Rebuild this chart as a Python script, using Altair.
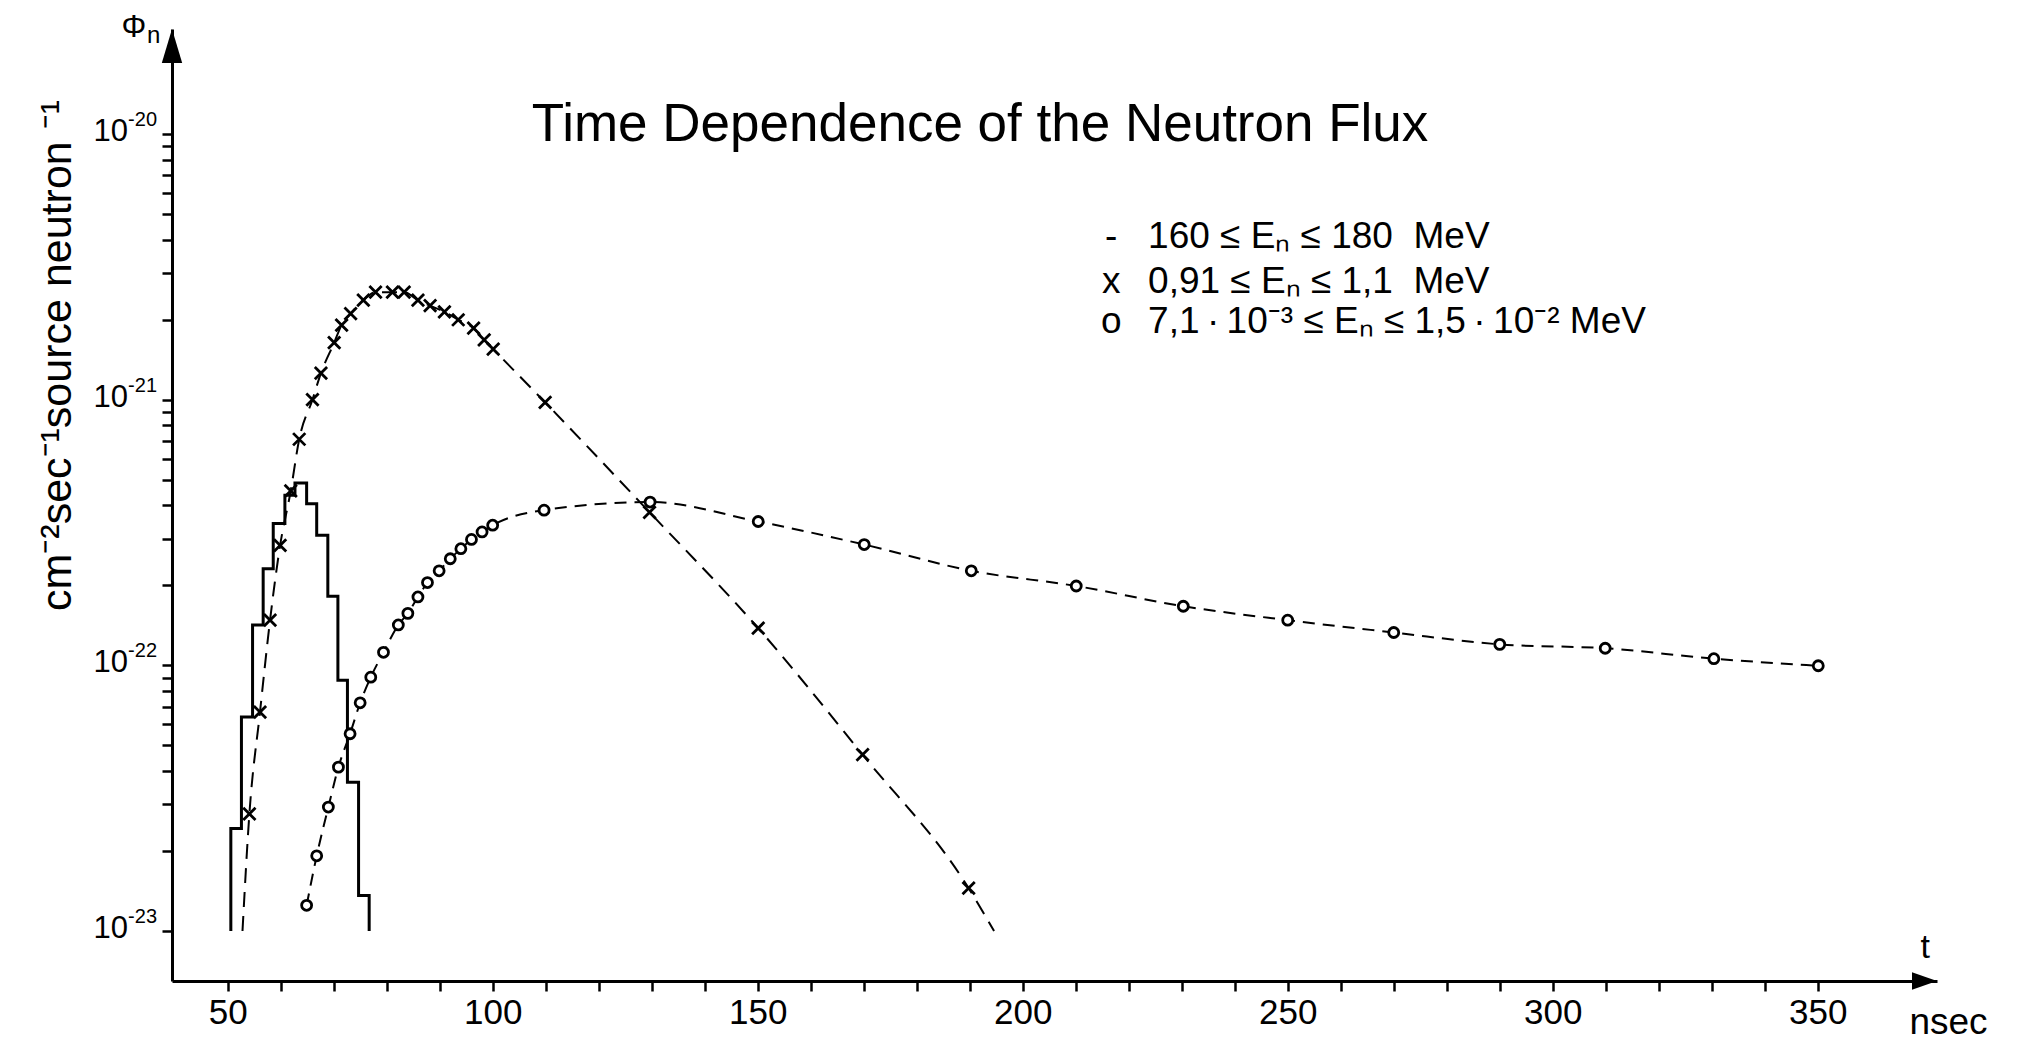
import altair as alt
import pandas as pd

FONT = "Liberation Sans, Arial, Helvetica, sans-serif"

# ---------------- data ----------------
# 160 <= En <= 180 MeV : histogram (bin edges in nsec, flux of each bin)
hist_edges = [50.6, 52.6, 54.7, 56.7, 58.6, 60.8, 62.7, 64.9, 66.8, 68.9, 70.8, 72.6, 74.7, 76.7]
hist_flux = [2.43e-23, 6.4e-23, 1.42e-22, 2.31e-22, 3.42e-22, 4.37e-22, 4.86e-22,
             4.06e-22, 3.09e-22, 1.82e-22, 8.8e-23, 3.63e-23, 1.36e-23]
hist_floor = 1.0e-23

# 0.91 <= En <= 1.1 MeV : crosses
cross_t = [54.1, 56.1, 58.0, 59.9, 61.9, 63.5, 66.0, 67.6, 70.1, 71.5, 73.2, 75.6, 77.9,
           81.1, 83.3, 85.9, 88.2, 90.9, 93.5, 96.4, 98.4, 100.1, 109.9, 129.6, 150.1,
           169.8, 189.8]
cross_flux = [2.76e-23, 6.67e-23, 1.48e-22, 2.83e-22, 4.54e-22, 7.1e-22, 1.0e-21, 1.26e-21,
              1.64e-21, 1.91e-21, 2.11e-21, 2.37e-21, 2.54e-21, 2.54e-21, 2.54e-21, 2.37e-21,
              2.26e-21, 2.14e-21, 2.0e-21, 1.86e-21, 1.68e-21, 1.55e-21, 9.77e-22, 3.77e-22,
              1.38e-22, 4.61e-23, 1.45e-23]
cross_curve_start = [52.8, 1.0e-23]
cross_curve_end = [194.6, 1.0e-23]

# 7.1e-3 <= En <= 1.5e-2 MeV : circles
circ_t = [64.9, 66.8, 69.0, 70.9, 73.1, 75.0, 77.0, 79.4, 82.2, 84.0, 85.9, 87.7, 89.9,
          92.0, 94.0, 96.0, 98.0, 100.0, 109.7, 129.7, 150.1, 170.1, 190.3, 210.1, 230.3,
          250.0, 270.0, 290.0, 309.9, 330.4, 350.1]
circ_flux = [1.25e-23, 1.92e-23, 2.93e-23, 4.14e-23, 5.53e-23, 7.23e-23, 9.03e-23, 1.12e-22,
             1.42e-22, 1.57e-22, 1.81e-22, 2.05e-22, 2.27e-22, 2.52e-22, 2.75e-22, 2.98e-22,
             3.18e-22, 3.37e-22, 3.84e-22, 4.12e-22, 3.48e-22, 2.85e-22, 2.27e-22, 1.99e-22,
             1.67e-22, 1.48e-22, 1.33e-22, 1.20e-22, 1.16e-22, 1.06e-22, 9.97e-23]

# ---------------- axes / texts ----------------
x_domain = [39.5, 372.5]
y_domain = [10 ** -23.188, 10 ** -19.6045]
x_ticks = list(range(50, 351, 10))
y_major = [1e-20, 1e-21, 1e-22, 1e-23]
y_major_base = ["10", "10", "10", "10"]
y_major_exp = ["-20", "-21", "-22", "-23"]
y_minor_mult = [2, 3, 4, 5, 6, 7, 8, 9]

title_text = "Time Dependence of the Neutron Flux"
y_title = "cm⁻²sec⁻¹source neutron ⁻¹"
x_title = "nsec"
legend_symbols = ["-", "x", "o"]
legend_labels = ["160 ≤ Eₙ ≤ 180\u00a0 MeV",
                 "0,91 ≤ Eₙ ≤ 1,1\u00a0 MeV",
                 "7,1\u2009·\u200910⁻³ ≤ Eₙ ≤ 1,5\u2009·\u200910⁻² MeV"]

# annotation anchors, in data units
title_anchor = (191.95, 10 ** -20.026)
legend_sym_t = 216.7
legend_text_t = 223.65
legend_row_flux = [10 ** -20.4294, 10 ** -20.5989, 10 ** -20.7495]
phi_anchor = (32.3, 10 ** -19.635)
phi_sub_anchor = (34.8, 10 ** -19.657)
t_anchor = (370.3, 10 ** -23.10)

# ---------------- encodings ----------------
y_ticks = [m * d for d in (1e-23, 1e-22, 1e-21) for m in y_minor_mult] + y_major

x_scale = alt.Scale(domain=x_domain, nice=False, zero=False)
y_scale = alt.Scale(type="log", domain=y_domain, nice=False)

x_axis = alt.Axis(
    values=x_ticks, labelExpr="datum.value % 50 === 0 ? datum.label : ''",
    grid=False, domainColor="black", domainWidth=3, tickColor="black", tickWidth=2.5,
    tickSize=10, labelFont=FONT, labelFontSize=35, labelColor="black", labelPadding=4,
    labelOverlap=False, labelFlush=False,
    title=x_title, titleFont=FONT, titleFontSize=37, titleFontWeight="normal",
    titleColor="black", titleX=1776, titleY=52, titleAlign="center",
    titleBaseline="alphabetic",
)
y_axis = alt.Axis(
    values=y_ticks, labels=False,
    grid=False, domainColor="black", domainWidth=3, tickColor="black", tickWidth=2.5,
    tickSize=10,
    title=y_title, titleFont=FONT, titleFontSize=43, titleFontWeight="normal",
    titleColor="black", titleX=-115, titleY=326, titleAngle=270, titleAlign="center",
    titleBaseline="middle",
)


def X():
    return alt.X("t:Q", scale=x_scale, axis=x_axis)


def Y():
    return alt.Y("flux:Q", scale=y_scale, axis=y_axis)


# ---------------- tables ----------------
hist_pts = [(hist_edges[0], hist_floor)] + \
    [(hist_edges[i], hist_flux[i]) for i in range(len(hist_flux))] + \
    [(hist_edges[-1], hist_floor)]
hist_df = pd.DataFrame({"t": [p[0] for p in hist_pts], "flux": [p[1] for p in hist_pts],
                        "i": range(len(hist_pts))})

cross_curve_t = [cross_curve_start[0]] + cross_t + [cross_curve_end[0]]
cross_curve_f = [cross_curve_start[1]] + cross_flux + [cross_curve_end[1]]
cross_line_df = pd.DataFrame({"t": cross_curve_t, "flux": cross_curve_f,
                              "i": range(len(cross_curve_t))})
cross_df = pd.DataFrame({"t": cross_t, "flux": cross_flux})
circ_df = pd.DataFrame({"t": circ_t, "flux": circ_flux, "i": range(len(circ_t))})

# ---------------- layers ----------------
hist = alt.Chart(hist_df).mark_line(
    interpolate="step-after", color="black", strokeWidth=3
).encode(x=X(), y=Y(), order="i:Q")

cross_line = alt.Chart(cross_line_df).mark_line(
    interpolate="monotone", color="black", strokeWidth=2, strokeDash=[15, 9]
).encode(x=X(), y=Y(), order="i:Q")

cross_pts = alt.Chart(cross_df).mark_point(
    shape="M-1,-1L1,1M-1,1L1,-1", size=150, filled=False, color="black",
    strokeWidth=2.8, opacity=1
).encode(x=X(), y=Y())

circ_line = alt.Chart(circ_df).mark_line(
    interpolate="monotone", color="black", strokeWidth=2, strokeDash=[12, 8]
).encode(x=X(), y=Y(), order="i:Q")

circ_pts = alt.Chart(circ_df).mark_point(
    shape="circle", size=100, filled=True, fill="white", stroke="black",
    strokeWidth=2.8, opacity=1
).encode(x=X(), y=Y())

arrow_up = alt.Chart(pd.DataFrame({"t": [x_domain[0]], "flux": [y_domain[1]]})).mark_point(
    shape="M0,0L0.6,2L-0.6,2Z", size=1156, filled=True, color="black", opacity=1,
    strokeWidth=0
).encode(x=X(), y=Y())

arrow_right = alt.Chart(pd.DataFrame({"t": [x_domain[1]], "flux": [y_domain[0]]})).mark_point(
    shape="M0,0L-2,-0.7L-2,0.7Z", size=625, filled=True, color="black", opacity=1,
    strokeWidth=0
).encode(x=X(), y=Y())


def text_layer(ts, fs, labels, size, align="left", baseline="alphabetic", dx=0, dy=0):
    df = pd.DataFrame({"t": ts, "flux": fs, "label": labels})
    return alt.Chart(df).mark_text(
        font=FONT, fontSize=size, align=align, baseline=baseline, color="black",
        dx=dx, dy=dy
    ).encode(x=X(), y=Y(), text="label:N")


ylab_base = text_layer([x_domain[0]] * 4, y_major, y_major_base, 31, "right", dx=-44, dy=7)
ylab_exp = text_layer([x_domain[0]] * 4, y_major, y_major_exp, 20, "right", dx=-15, dy=-8)
title_layer = text_layer([title_anchor[0]], [title_anchor[1]], [title_text], 53, "center")
legend_sym_layer = text_layer([legend_sym_t] * 3, legend_row_flux, legend_symbols, 37, "center")
legend_txt_layer = text_layer([legend_text_t] * 3, legend_row_flux, legend_labels, 37, "left")
phi_layer = text_layer([phi_anchor[0]], [phi_anchor[1]], ["Φ"], 31, "center")
phi_sub_layer = text_layer([phi_sub_anchor[0]], [phi_sub_anchor[1]], ["n"], 24, "left")
t_layer = text_layer([t_anchor[0]], [t_anchor[1]], ["t"], 34, "center")

chart = alt.layer(
    hist, cross_line, circ_line, cross_pts, circ_pts, arrow_up, arrow_right,
    ylab_base, ylab_exp, title_layer, legend_sym_layer, legend_txt_layer,
    phi_layer, phi_sub_layer, t_layer
).properties(
    width=1765, height=952,
    autosize=alt.AutoSizeParams(type="none"),
    padding={"left": 172, "top": 29, "right": 80, "bottom": 59},
    background="white",
).configure_view(stroke=None)

chart.save("out.html", embed_options={"renderer": "svg", "actions": False})
